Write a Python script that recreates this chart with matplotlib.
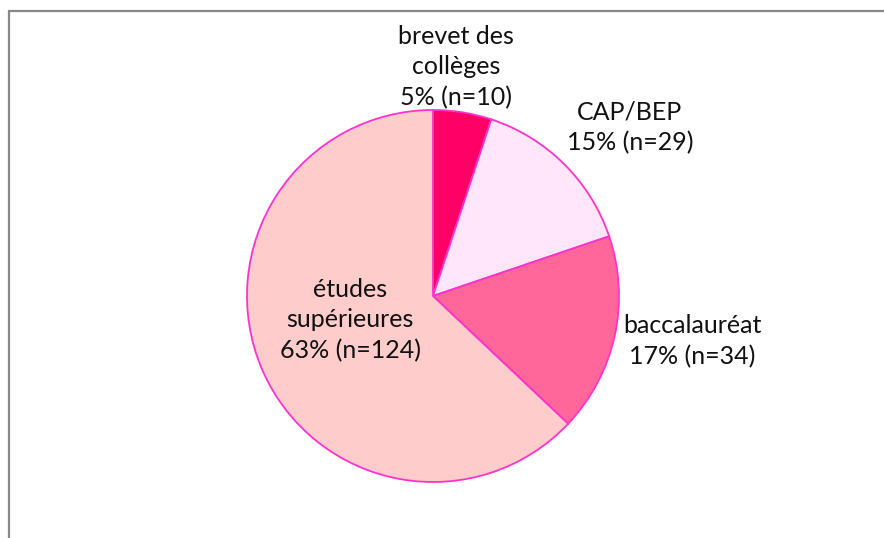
import matplotlib.pyplot as plt
from matplotlib.patches import Rectangle

# données
labels  = ["brevet des\ncollèges", "CAP/BEP", "baccalauréat", "études\nsupérieures"]
counts  = [10, 29, 34, 124]
pcts    = [5, 15, 17, 63]
colors  = ["#FF0066", "#FFE6FA", "#FF6699", "#FFCCCC"]

# positions des étiquettes (pixels depuis le haut)
lab_xy  = [(456, 67), (630, 127), (692, 341), (350, 320)]

W, H = 884, 538
fig = plt.figure(figsize=(W/100, H/100), dpi=100)
ax = fig.add_axes([0, 0, 1, 1])

# cadre (seuls les bords haut et gauche visibles)
ax.add_patch(Rectangle((8.5, -20), W, H - 11 + 20, fill=False,
                       edgecolor="#888888", lw=1.6, zorder=0))

wedges, _ = ax.pie(counts, colors=colors, startangle=90, counterclock=False,
                   center=(433, H - 296), radius=186, frame=True,
                   wedgeprops=dict(edgecolor="#FF33CC", linewidth=1.3))
ax.set_xlim(0, W)
ax.set_ylim(0, H)
ax.set_aspect('equal')
ax.axis('off')

for lab, n, p, (x, y) in zip(labels, counts, pcts, lab_xy):
    ax.text(x, H - y, f"{lab}\n{p}% (n={n})", ha='center', va='center',
            fontsize=18, family='Lato', color="#111111", linespacing=1.38)

fig.savefig("out.png", dpi=100)
